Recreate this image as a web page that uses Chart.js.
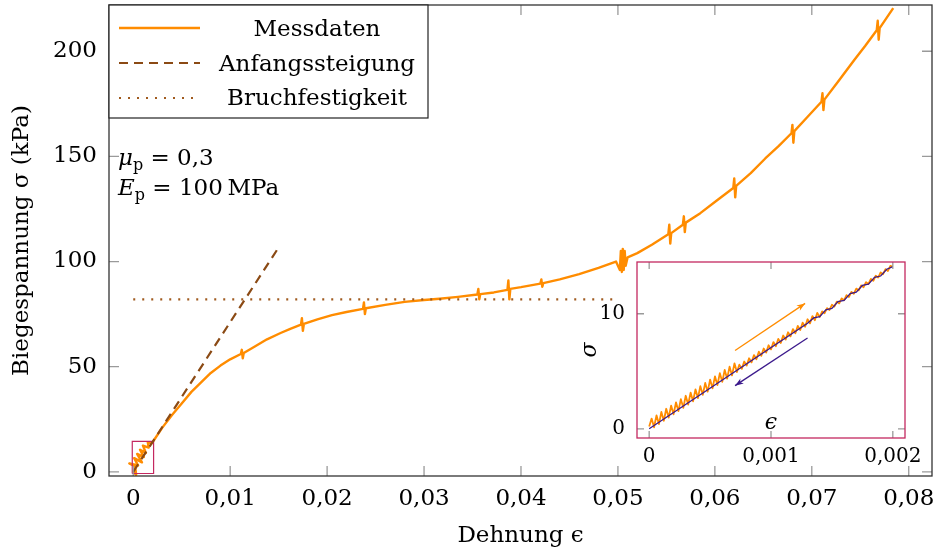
<!DOCTYPE html>
<html>
<head>
<meta charset="utf-8">
<title>Biegespannung</title>
<script src="https://cdn.jsdelivr.net/npm/chart.js@4.4.0/dist/chart.umd.min.js"></script>
<style>
	body { margin: 0; background: #fff; }
	#wrap { position: relative; width: 936px; height: 554px; }
	#mainChart { position: absolute; left: 0; top: 0; }
	#insetChart { position: absolute; left: 575px; top: 250px; }
</style>
</head>
<body>

<div id="wrap">
	<canvas id="mainChart" width="936" height="554"></canvas>
	<canvas id="insetChart" width="350" height="225"></canvas>
</div>

<script type="text/javascript">

// main plot data (Dehnung, Biegespannung in kPa)
var messdaten = [
	[0,0],[0.0003,-1.5],[0.0002,2.5],[-0.0004,4],[0.0005,3],[0.0001,6.5],[0.0009,4.5],[0.0004,8.5],
	[0.0011,7],[0.0007,10.5],[0.0013,9],[0.0010,12.5],[0.0016,11.5],[0.0015,14],[0.0019,13.5],[0.0022,15.5],
	[0.003,21],[0.004,27],[0.005,32.5],[0.006,38],[0.007,42.5],[0.008,47],[0.009,50.5],[0.010,53.5],
	[0.0111,56],[0.0112,58],[0.0113,54],[0.0114,56.5],[0.0125,59.5],[0.0138,63],[0.0152,66],[0.0162,68],
	[0.0173,70],[0.0174,73],[0.0175,67],[0.0176,70.3],[0.019,72.5],[0.0205,74.5],[0.022,76],
	[0.0237,77.5],[0.0238,80.5],[0.0239,75],[0.024,77.8],[0.026,79.4],[0.028,80.8],[0.030,81.7],[0.0316,82.3],
	[0.0335,83.2],[0.0355,84.3],[0.0356,87],[0.0357,82],[0.0358,84.5],[0.0372,85.3],
	[0.0386,86.5],[0.0387,91],[0.0388,82],[0.0389,87],[0.040,87.8],[0.042,89.5],[0.0421,91.5],[0.0422,88],[0.0423,89.7],
	[0.044,91.5],[0.046,94],[0.048,97],[0.0498,100],[0.0502,96],[0.0503,105],[0.0504,95],[0.0505,106],
	[0.0506,96],[0.0507,105],[0.0508,98],[0.051,102],[0.052,104],[0.0535,108],
	[0.0552,113],[0.0553,117.5],[0.0554,108.5],[0.0555,113.5],[0.0567,117.5],[0.0568,121.5],[0.0569,114],[0.057,118.5],
	[0.0585,123],[0.0602,129],[0.0619,135],[0.062,139.5],[0.0621,130.5],[0.0622,136],[0.0637,142],[0.0652,149],
	[0.0666,155],[0.0679,161],[0.068,165],[0.0681,156.5],[0.0682,162],[0.0695,168.5],
	[0.071,176],[0.0711,180],[0.0712,172],[0.0713,177],[0.0727,185.5],[0.0744,196],[0.0755,202.5],
	[0.0767,210],[0.0768,214.5],[0.0769,205.5],[0.077,211],[0.0784,220.5]
];
var anfangssteigung = [[0,0],[0.0149,106]];
var bruchfestigkeit = [[0,82],[0.05,82]];
var zoomBox = [[-0.0001,-0.8],[0.0021,-0.8],[0.0021,14.5],[-0.0001,14.5],[-0.0001,-0.8]];

var xTicks = [0,0.01,0.02,0.03,0.04,0.05,0.06,0.07,0.08];
var yTicks = [0,50,100,150,200];

// inset data (first 0.002 of strain), loading with the saw-tooth noise
var insetLoadX = [0,0.00002,0.00004,0.00006,0.00008,0.0001,0.00012,0.00014,0.00016,0.00018,
	0.0002,0.00022,0.00024,0.00026,0.00028,0.0003,0.00032,0.00034,0.00036,0.00038,
	0.0004,0.00042,0.00044,0.00046,0.00048,0.0005,0.00052,0.00054,0.00056,0.00058,
	0.0006,0.00062,0.00064,0.00066,0.00068,0.0007,0.00072,0.00074,0.00076,0.00078,
	0.0008,0.00082,0.00084,0.00086,0.00088,0.0009,0.00092,0.00094,0.00096,0.00098,
	0.001,0.00102,0.00104,0.00106,0.00108,0.0011,0.00112,0.00114,0.00116,0.00118,
	0.0012,0.00122,0.00124,0.00126,0.00128,0.0013,0.00132,0.00134,0.00136,0.00138,
	0.0014,0.00142,0.00144,0.00146,0.00148,0.0015,0.00152,0.00154,0.00156,0.00158,
	0.0016,0.00162,0.00164,0.00166,0.00168,0.0017,0.00172,0.00174,0.00176,0.00178,
	0.0018,0.00182,0.00184,0.00186,0.00188,0.0019,0.00192,0.00194,0.00196,0.00198,0.002];
var insetLoadY = [0.2,0.89,0.13,1.17,0.41,1.46,0.70,1.74,0.98,2.02,
	1.26,2.30,1.54,2.58,1.82,2.87,2.11,3.15,2.39,3.43,
	2.67,3.71,2.95,3.99,3.23,4.28,3.52,4.56,3.80,4.84,
	4.08,5.12,4.36,5.40,4.64,5.69,4.93,5.57,5.21,5.85,
	5.49,6.13,5.77,6.41,6.05,6.70,6.34,6.98,6.62,7.26,
	6.90,7.54,7.18,7.82,7.46,8.11,7.75,8.39,8.03,8.67,
	8.31,8.95,8.59,9.23,8.87,9.52,9.16,9.80,9.44,10.08,
	9.72,10.21,10.05,10.49,10.33,10.78,10.62,11.06,10.90,11.34,
	11.18,11.62,11.46,11.90,11.74,12.19,12.03,12.47,12.31,12.75,
	12.59,13.03,12.87,13.31,13.15,13.60,13.44,13.88,13.72,14.16,14.1];
var insetUnload = [[0.002,14.1],[0.00195,13.87],[0.0019,13.28],[0.00185,13.16],[0.0018,12.57],[0.00175,12.46],
	[0.0017,11.87],[0.00165,11.75],[0.0016,11.16],[0.00155,11.05],[0.0015,10.46],[0.00145,10.34],
	[0.0014,9.75],[0.00135,9.64],[0.0013,9.17],[0,0]];
var arrowLoad = [[0.000705,6.8],[0.00128,10.9]];
var arrowUnload = [[0.0013,7.9],[0.000705,3.75]];
var insetXTicks = [0,0.001,0.002];
var insetYTicks = [0,10];

var orange = 'rgb(255, 140, 0)';
var brown = 'rgb(139, 74, 20)';
var brownDot = 'rgb(160, 90, 30)';
var crimson = 'rgb(196, 40, 96)';
var indigo = 'rgb(60, 26, 140)';

Chart.defaults.font.family = 'DejaVu Serif';
Chart.defaults.color = '#000';

function toXY(list) {
	return list.map(function (p) { return { x: p[0], y: p[1] }; });
}

function commaLabel(v) {
	if (v === 0) return '0';
	var s = String(Number(v.toPrecision(6)));
	return s.replace('.', ',');
}

function noPadding(s) {
	s.paddingLeft = 0; s.paddingRight = 0; s.paddingTop = 0; s.paddingBottom = 0;
}

function drawFrame(chart, len, frameColor, frameWidth) {
	var ctx = chart.ctx, a = chart.chartArea;
	var xs = chart.scales.x, ys = chart.scales.y;
	ctx.save();
	ctx.strokeStyle = '#9a9a9a';
	ctx.lineWidth = 1.3;
	ctx.beginPath();
	xs.ticks.forEach(function (t) {
		var px = xs.getPixelForValue(t.value);
		ctx.moveTo(px, a.bottom); ctx.lineTo(px, a.bottom - len);
		ctx.moveTo(px, a.top); ctx.lineTo(px, a.top + len);
	});
	ys.ticks.forEach(function (t) {
		var py = ys.getPixelForValue(t.value);
		ctx.moveTo(a.left, py); ctx.lineTo(a.left + len, py);
		ctx.moveTo(a.right, py); ctx.lineTo(a.right - len, py);
	});
	ctx.stroke();
	ctx.strokeStyle = frameColor;
	ctx.lineWidth = frameWidth;
	ctx.strokeRect(a.left, a.top, a.width, a.height);
	ctx.restore();
}

var mainDecor = {
	id: 'mainDecor',
	afterDatasetsDraw: function (chart) {
		var ctx = chart.ctx;
		drawFrame(chart, 10, '#333', 1.3);

		// legend box
		ctx.save();
		ctx.fillStyle = '#fff';
		ctx.fillRect(109, 5, 319, 113);
		ctx.strokeStyle = '#222';
		ctx.lineWidth = 1.2;
		ctx.strokeRect(109, 5, 319, 113);
		[0, 1, 2].forEach(function (i) {
			var ds = chart.data.datasets[i];
			var ly = 28 + i * 35;
			ctx.strokeStyle = ds.borderColor;
			ctx.lineWidth = ds.borderWidth;
			ctx.setLineDash(ds.borderDash || []);
			ctx.beginPath();
			ctx.moveTo(119, ly); ctx.lineTo(200, ly);
			ctx.stroke();
			ctx.setLineDash([]);
			ctx.fillStyle = '#000';
			ctx.font = '23px DejaVu Serif';
			ctx.textAlign = 'center';
			ctx.textBaseline = 'alphabetic';
			ctx.fillText(ds.label, 317, 36 + i * 34.5);
		});

		// parameters
		ctx.textAlign = 'left';
		var params = [['\u03bc', ' = 0,3', 165], ['E', ' = 100\u2009MPa', 195]];
		params.forEach(function (p) {
			var x0 = 118;
			ctx.font = 'italic 23px DejaVu Serif';
			ctx.fillText(p[0], x0, p[2]);
			x0 += ctx.measureText(p[0]).width;
			ctx.font = '16px DejaVu Serif';
			ctx.fillText('p', x0, p[2] + 5);
			x0 += ctx.measureText('p').width;
			ctx.font = '23px DejaVu Serif';
			ctx.fillText(p[1], x0, p[2]);
		});
		ctx.restore();
	}
};

new Chart(document.getElementById('mainChart').getContext('2d'), {
	type: 'line',
	data: {
		datasets: [
			{ label: 'Messdaten', data: toXY(messdaten), borderColor: orange, borderWidth: 2.4, borderJoinStyle: 'round', order: 1 },
			{ label: 'Anfangssteigung', data: toXY(anfangssteigung), borderColor: brown, borderWidth: 2.2, borderDash: [9, 6], order: 0 },
			{ label: 'Bruchfestigkeit', data: toXY(bruchfestigkeit), borderColor: brownDot, borderWidth: 2.2, borderDash: [2, 7], order: 0 },
			{ label: 'Ausschnitt', data: toXY(zoomBox), borderColor: crimson, borderWidth: 1.2, order: 0 }
		]
	},
	options: {
		responsive: false,
		animation: false,
		devicePixelRatio: 1,
		layout: { padding: { top: 5, right: 4, left: 0, bottom: 0 } },
		elements: { point: { radius: 0 }, line: { tension: 0, fill: false } },
		plugins: { legend: { display: false }, tooltip: { enabled: false } },
		scales: {
			x: {
				type: 'linear', min: -0.0025, max: 0.0824,
				afterBuildTicks: function (s) { s.ticks = xTicks.map(function (v) { return { value: v }; }); },
				afterFit: function (s) { s.height = 78; noPadding(s); },
				grid: { display: false, drawTicks: false },
				border: { display: false },
				ticks: { padding: 9, font: { size: 23 }, maxRotation: 0, callback: function (v) { return commaLabel(v); } },
				title: { display: true, text: 'Dehnung \u03f5', font: { size: 23 }, padding: { top: 4, bottom: 4 } }
			},
			y: {
				type: 'linear', min: -2, max: 222,
				afterBuildTicks: function (s) { s.ticks = yTicks.map(function (v) { return { value: v }; }); },
				afterFit: function (s) { s.width = 109; noPadding(s); },
				grid: { display: false, drawTicks: false },
				border: { display: false },
				ticks: { padding: 12, font: { size: 23 } },
				title: { display: true, text: 'Biegespannung \u03c3 (kPa)', font: { size: 23 }, padding: { top: 8, bottom: 4 } }
			}
		}
	},
	plugins: [mainDecor]
});

function drawArrowHead(ctx, x1, y1, x2, y2, color) {
	var ang = Math.atan2(y2 - y1, x2 - x1);
	ctx.fillStyle = color;
	ctx.beginPath();
	ctx.moveTo(x2, y2);
	ctx.lineTo(x2 - 9 * Math.cos(ang - 0.35), y2 - 9 * Math.sin(ang - 0.35));
	ctx.lineTo(x2 - 6 * Math.cos(ang), y2 - 6 * Math.sin(ang));
	ctx.lineTo(x2 - 9 * Math.cos(ang + 0.35), y2 - 9 * Math.sin(ang + 0.35));
	ctx.closePath();
	ctx.fill();
}

var insetDecor = {
	id: 'insetDecor',
	beforeDatasetsDraw: function (chart) {
		var a = chart.chartArea;
		chart.ctx.save();
		chart.ctx.fillStyle = '#fff';
		chart.ctx.fillRect(a.left, a.top, a.width, a.height);
		chart.ctx.restore();
	},
	afterDatasetsDraw: function (chart) {
		var ctx = chart.ctx, a = chart.chartArea;
		var xs = chart.scales.x, ys = chart.scales.y;
		drawFrame(chart, 7, crimson, 1.3);
		ctx.save();
		[[arrowLoad, orange], [arrowUnload, indigo]].forEach(function (ar) {
			var p = ar[0];
			drawArrowHead(ctx, xs.getPixelForValue(p[0][0]), ys.getPixelForValue(p[0][1]),
				xs.getPixelForValue(p[1][0]), ys.getPixelForValue(p[1][1]), ar[1]);
		});
		ctx.fillStyle = '#000';
		ctx.font = 'italic 22px DejaVu Serif';
		ctx.textAlign = 'center';
		ctx.textBaseline = 'middle';
		ctx.fillText('\u03f5', xs.getPixelForValue(0.001), a.bottom - 15);
		ctx.restore();
	}
};

new Chart(document.getElementById('insetChart').getContext('2d'), {
	type: 'line',
	data: {
		datasets: [
			{ label: 'Entlastung', data: toXY(insetUnload), borderColor: indigo, borderWidth: 1.3, order: 0 },
			{ label: 'Belastung', data: insetLoadX.map(function (x, i) { return { x: x, y: insetLoadY[i] }; }), borderColor: orange, borderWidth: 1.8, borderJoinStyle: 'round', order: 1 },
			{ label: 'Pfeil1', data: toXY(arrowLoad), borderColor: orange, borderWidth: 1.3, order: 2 },
			{ label: 'Pfeil2', data: toXY(arrowUnload), borderColor: indigo, borderWidth: 1.3, order: 2 }
		]
	},
	options: {
		responsive: false,
		animation: false,
		devicePixelRatio: 1,
		layout: { padding: { top: 12, right: 20, left: 0, bottom: 0 } },
		elements: { point: { radius: 0 }, line: { tension: 0, fill: false } },
		plugins: { legend: { display: false }, tooltip: { enabled: false } },
		scales: {
			x: {
				type: 'linear', min: -0.0001, max: 0.0021,
				afterBuildTicks: function (s) { s.ticks = insetXTicks.map(function (v) { return { value: v }; }); },
				afterFit: function (s) { s.height = 37; noPadding(s); },
				grid: { display: false, drawTicks: false },
				border: { display: false },
				ticks: { padding: 7, font: { size: 20 }, maxRotation: 0, callback: function (v) { return commaLabel(v); } }
			},
			y: {
				type: 'linear', min: -0.8, max: 14.5,
				afterBuildTicks: function (s) { s.ticks = insetYTicks.map(function (v) { return { value: v }; }); },
				afterFit: function (s) { s.width = 62; noPadding(s); },
				grid: { display: false, drawTicks: false },
				border: { display: false },
				ticks: { padding: 12, font: { size: 20 } },
				title: { display: true, text: '\u03c3', font: { size: 22, style: 'italic' }, padding: { top: 2, bottom: 0 } }
			}
		}
	},
	plugins: [insetDecor]
});

</script>

</body>
</html>
